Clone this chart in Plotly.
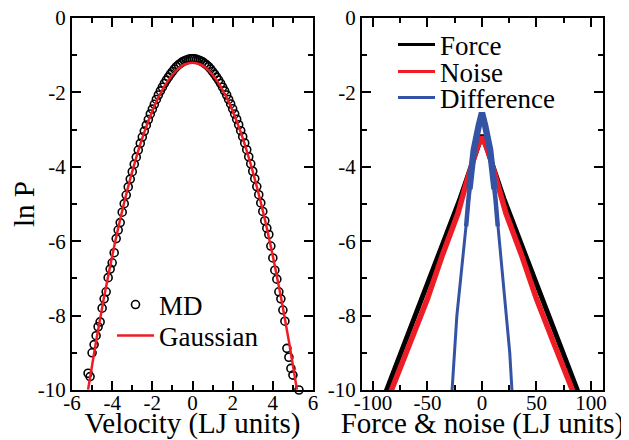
import plotly.graph_objects as go

# ---------------- data ----------------
# Left panel: velocity distribution (MD histogram, ln P)
md_v = [-5.2, -5.1, -5.0, -4.9, -4.8, -4.7, -4.6, -4.5, -4.4, -4.3, -4.2, -4.1,
        -4.0, -3.9, -3.8, -3.7, -3.6, -3.5, -3.4, -3.3, -3.2, -3.1, -3.0, -2.9,
        -2.8, -2.7, -2.6, -2.5, -2.4, -2.3, -2.2, -2.1, -2.0, -1.9, -1.8, -1.7,
        -1.6, -1.5, -1.4, -1.3, -1.2, -1.1, -1.0, -0.9, -0.8, -0.7, -0.6, -0.5,
        -0.4, -0.3, -0.2, -0.1, 0.0, 0.1, 0.2, 0.3, 0.4, 0.5, 0.6, 0.7,
        0.8, 0.9, 1.0, 1.1, 1.2, 1.3, 1.4, 1.5, 1.6, 1.7, 1.8, 1.9,
        2.0, 2.1, 2.2, 2.3, 2.4, 2.5, 2.6, 2.7, 2.8, 2.9, 3.0, 3.1,
        3.2, 3.3, 3.4, 3.5, 3.6, 3.7, 3.8, 3.9, 4.0, 4.1, 4.2, 4.3,
        4.4, 4.5, 4.6, 4.7, 4.8, 4.9, 5.0, 5.3]
md_lnp = [-9.55, -9.64, -9.00, -8.78, -8.54, -8.30, -8.17, -7.80, -7.55, -7.36, -6.98, -6.75,
          -6.58, -6.31, -5.93, -5.70, -5.50, -5.22, -4.99, -4.76, -4.54, -4.33, -4.13, -3.93,
          -3.74, -3.55, -3.37, -3.20, -3.04, -2.88, -2.73, -2.58, -2.45, -2.32, -2.19, -2.07,
          -1.96, -1.86, -1.76, -1.67, -1.59, -1.51, -1.44, -1.37, -1.31, -1.26, -1.22, -1.18,
          -1.15, -1.13, -1.11, -1.10, -1.10, -1.10, -1.11, -1.13, -1.15, -1.18, -1.22, -1.26,
          -1.31, -1.37, -1.44, -1.51, -1.59, -1.67, -1.76, -1.86, -1.96, -2.07, -2.19, -2.31,
          -2.44, -2.58, -2.72, -2.87, -3.03, -3.19, -3.36, -3.54, -3.73, -3.92, -4.12, -4.32,
          -4.53, -4.75, -4.97, -5.20, -5.45, -5.65, -5.82, -6.13, -6.45, -6.78, -7.02, -7.36,
          -7.55, -7.85, -8.15, -8.88, -9.12, -9.42, -9.60, -10.0]

gauss_v = [-5.2, -4.8, -4.4, -4.0, -3.6, -3.2, -2.8, -2.4, -2.0, -1.6, -1.2, -0.8, -0.4, 0.0,
           0.4, 0.8, 1.2, 1.6, 2.0, 2.4, 2.8, 3.2, 3.6, 4.0, 4.4, 4.8, 5.2]
gauss_lnp = [-9.99, -8.69, -7.49, -6.40, -5.41, -4.53, -3.75, -3.07, -2.50, -2.03, -1.67, -1.41, -1.25, -1.20,
             -1.25, -1.41, -1.67, -2.03, -2.50, -3.07, -3.75, -4.53, -5.41, -6.40, -7.49, -8.69, -9.99]

# Right panel: force, noise and difference distributions
force_x = [-92, -87.5, -71, -54, -35, -20, -10, -5, 0, 5, 10, 20, 35, 54, 71, 87.5, 92]
force_lnp = [-10.35, -10.0, -8.75, -7.45, -6.0, -4.85, -4.0, -3.55, -3.15,
             -3.55, -4.0, -4.85, -6.0, -7.45, -8.75, -10.0, -10.35]

noise_x = [-87, -83, -66, -50, -36, -22, -14, -8, -4, 0, 4, 8, 14, 22, 36, 50, 66, 83, 87]
noise_lnp = [-10.3, -10.0, -8.75, -7.55, -6.35, -5.25, -4.4, -3.8, -3.45, -3.2,
             -3.45, -3.8, -4.4, -5.25, -6.35, -7.55, -8.75, -10.0, -10.3]

diff_x = [-28.5, -27.5, -25.5, -23, -19.5, -16, -12.5, -7.5, -3, 0, 3, 7.5, 12.5, 16, 19.5, 23, 25.5, 27.5, 28.5]
diff_lnp = [-10.5, -10.0, -9.0, -8.0, -7.0, -6.0, -4.9, -3.55, -2.9, -2.55,
            -2.9, -3.55, -4.9, -6.0, -7.0, -8.0, -9.0, -10.0, -10.5]
# noisy (thick) upper part of the difference curve
diff_mid_x = [-14.5, -12.5, -7.5, -3, 0, 3, 7.5, 12.5, 14.5]
diff_mid_lnp = [-5.6, -4.9, -3.55, -2.9, -2.55, -2.9, -3.55, -4.9, -5.6]
diff_top_x = [-11.5, -7.5, -3, 0, 3, 7.5, 11.5]
diff_top_lnp = [-4.6, -3.55, -2.9, -2.55, -2.9, -3.55, -4.6]

# ticks
left_xticks = [-6, -4, -2, 0, 2, 4, 6]
left_xlabels = ["-6", "-4", "-2", "0", "2", "4", "6"]
right_xticks = [-100, -50, 0, 50, 100]
right_xlabels = ["-100", "-50", "0", "50", "100"]
yticks = [-10, -8, -6, -4, -2, 0]
ylabels = ["-10", "-8", "-6", "-4", "-2", "0"]

# ---------------- figure ----------------
# the page body has an 8px margin, so the figure is 8px smaller and all
# pixel positions below are measured from the window's top-left corner
OFF = 8
W, H = 629 - OFF, 440 - OFF
FONT = "Liberation Serif"
RED = "#ee1c25"
BLUE = "#3553a5"
BLACK = "#000000"

fig = go.Figure()

fig.add_trace(go.Scatter(x=md_v, y=md_lnp, mode="markers", name="MD",
                         marker=dict(symbol="circle-open", size=8, color=BLACK, line=dict(width=1.6)),
                         cliponaxis=False, xaxis="x", yaxis="y", legend="legend"))
fig.add_trace(go.Scatter(x=gauss_v, y=gauss_lnp, mode="lines", name="Gaussian",
                         line=dict(color=RED, width=2.5, shape="spline"),
                         xaxis="x", yaxis="y", legend="legend2"))

fig.add_trace(go.Scatter(x=force_x, y=force_lnp, mode="lines", name="Force",
                         line=dict(color=BLACK, width=5), showlegend=False,
                         xaxis="x2", yaxis="y2"))
fig.add_trace(go.Scatter(x=noise_x, y=noise_lnp, mode="lines", name="Noise",
                         line=dict(color=RED, width=5.5), showlegend=False,
                         xaxis="x2", yaxis="y2"))
fig.add_trace(go.Scatter(x=diff_x, y=diff_lnp, mode="lines", name="Difference",
                         line=dict(color=BLUE, width=3), showlegend=False,
                         xaxis="x2", yaxis="y2"))
fig.add_trace(go.Scatter(x=diff_mid_x, y=diff_mid_lnp, mode="lines", name="Difference",
                         line=dict(color=BLUE, width=4.5), showlegend=False,
                         xaxis="x2", yaxis="y2"))
fig.add_trace(go.Scatter(x=diff_top_x, y=diff_top_lnp, mode="lines", name="Difference",
                         line=dict(color=BLUE, width=6.5), showlegend=False,
                         xaxis="x2", yaxis="y2"))

# legend entries for the right panel (thin line samples as in the reference)
for nm, col, lg in [("Force", BLACK, "legend3"), ("Noise", RED, "legend4"), ("Difference", BLUE, "legend5")]:
    fig.add_trace(go.Scatter(x=[None], y=[None], mode="lines", name=nm,
                             line=dict(color=col, width=3), xaxis="x2", yaxis="y2", legend=lg))

def px_x(p):
    return (p - OFF) / W

def px_y(p):
    return 1 - (p - OFF) / H

tickfont = dict(family=FONT, size=21, color=BLACK)
titlefont = dict(family=FONT, size=29, color=BLACK)

axis_common = dict(showline=True, linewidth=2, linecolor=BLACK, mirror="ticks",
                   ticks="inside", ticklen=9, tickwidth=2, tickcolor=BLACK,
                   showgrid=False, zeroline=False, tickfont=tickfont, automargin=False,
                   ticklabeloverflow="allow")

y0, y1 = px_y(390), px_y(18)

fig.update_layout(
    width=W, height=H,
    font=dict(family=FONT, color=BLACK),
    margin=dict(l=0, r=0, t=0, b=0, autoexpand=False),
    paper_bgcolor="white", plot_bgcolor="white",
    xaxis=dict(domain=[px_x(72), px_x(313)], range=[-6, 6], anchor="y",
               tickvals=left_xticks, ticktext=left_xlabels, ticklabelstandoff=-7,
               minor=dict(ticks="inside", dtick=1, ticklen=5, tickwidth=2, tickcolor=BLACK),
               title=dict(text="Velocity (LJ units)", font=titlefont, standoff=0),
               **axis_common),
    yaxis=dict(domain=[y0, y1], range=[-10, 0], anchor="x",
               tickvals=yticks, ticktext=ylabels,
               minor=dict(ticks="inside", dtick=1, ticklen=5, tickwidth=2, tickcolor=BLACK),
               title=dict(text="ln P", font=titlefont, standoff=0),
               **axis_common),
    xaxis2=dict(domain=[px_x(362), px_x(603)], range=[-110, 111], anchor="y2",
                tickvals=right_xticks, ticktext=right_xlabels, ticklabelstandoff=-7,
                minor=dict(ticks="inside", dtick=25, tick0=0, ticklen=5, tickwidth=2, tickcolor=BLACK),
                title=dict(text="Force & noise (LJ units)", font=titlefont, standoff=0),
                **axis_common),
    yaxis2=dict(domain=[y0, y1], range=[-10, 0], anchor="x2",
                tickvals=yticks, ticktext=ylabels,
                minor=dict(ticks="inside", dtick=1, ticklen=5, tickwidth=2, tickcolor=BLACK),
                **axis_common),
)

legend_common = dict(bgcolor="rgba(0,0,0,0)", borderwidth=0, itemwidth=37,
                     font=dict(family=FONT, size=27, color=BLACK),
                     xanchor="left", yanchor="middle", tracegroupgap=0)
fig.update_layout(
    legend=dict(x=px_x(112), y=px_y(305), **legend_common),
    legend2=dict(x=px_x(112), y=px_y(336), **legend_common),
    legend3=dict(x=px_x(393), y=px_y(45), **legend_common),
    legend4=dict(x=px_x(393), y=px_y(72), **legend_common),
    legend5=dict(x=px_x(393), y=px_y(98), **legend_common),
)

fig.write_html("out.html")
